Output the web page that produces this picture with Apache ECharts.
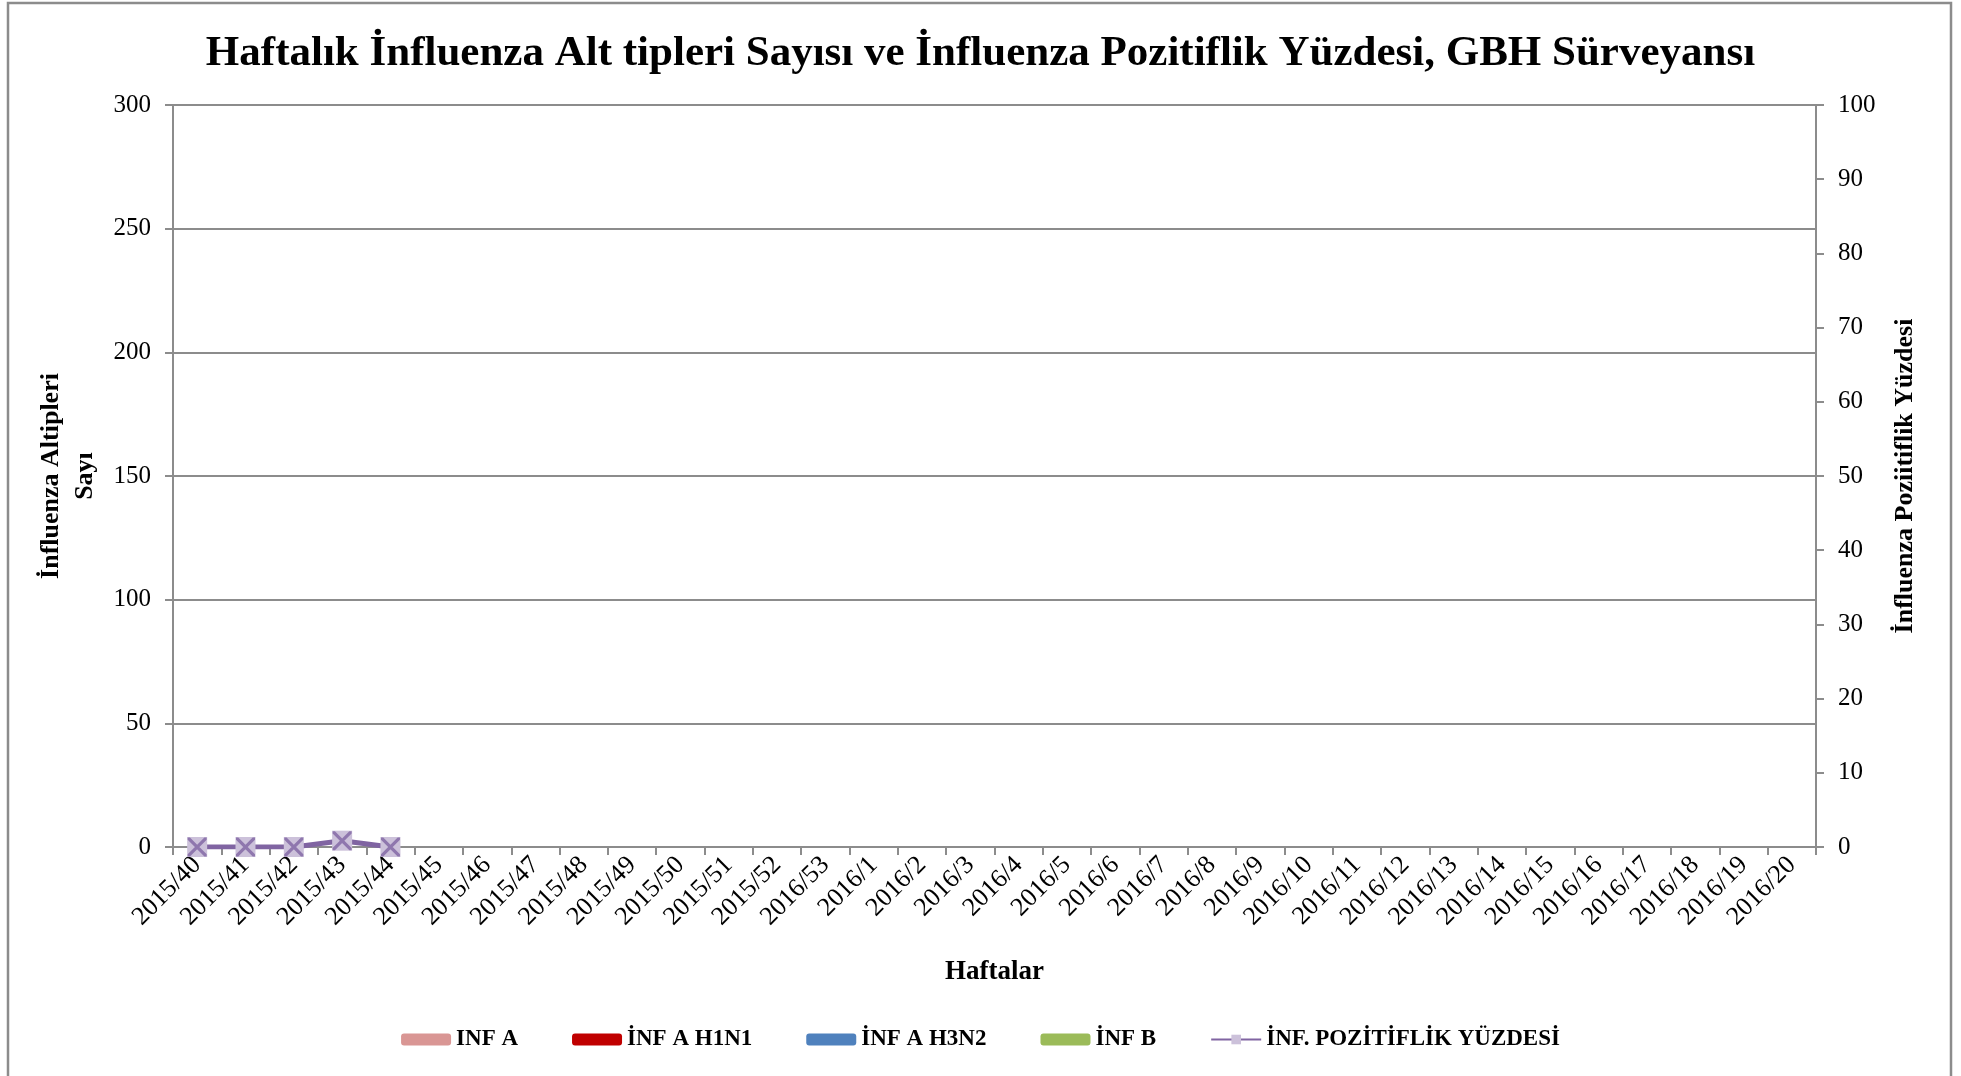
<!DOCTYPE html>
<html><head><meta charset="utf-8">
<script src="https://cdn.jsdelivr.net/npm/echarts@6/dist/echarts.min.js"></script>
<style>html,body{margin:0;padding:0;background:#fff}#c{width:1961px;height:1076px}</style>
</head><body><div id="c"></div>
<script>
const weeks = ['2015/40','2015/41','2015/42','2015/43','2015/44','2015/45','2015/46','2015/47','2015/48','2015/49','2015/50','2015/51','2015/52','2016/53','2016/1','2016/2','2016/3','2016/4','2016/5','2016/6','2016/7','2016/8','2016/9','2016/10','2016/11','2016/12','2016/13','2016/14','2016/15','2016/16','2016/17','2016/18','2016/19','2016/20'];
const infA = [0,0,0,0,0];
const infAH1N1 = [0,0,0,0,0];
const infAH3N2 = [0,0,0,0,0];
const infB = [0,0,0,0,0];
const positivity = [0,0,0,0.85,0];
const leftTicks = [0,50,100,150,200,250,300];
const rightTicks = [0,10,20,30,40,50,60,70,80,90,100];

const FONT = '"Liberation Serif","Times New Roman",serif';
const GRAY = '#8c8c8c';
const chart = echarts.init(document.getElementById('c'), null, {renderer:'canvas'});
const crossPath = 'path://M0,0 L1.2,0 L10,8.8 L10,10 L8.8,10 L0,1.2 Z M10,0 L10,1.2 L1.2,10 L0,10 L0,8.8 L8.8,0 Z';
chart.setOption({
  backgroundColor:'#fff',
  animation:false,
  title:{text:'Haftalık İnfluenza Alt tipleri Sayısı ve İnfluenza Pozitiflik Yüzdesi, GBH Sürveyansı',
    left:'center', top:27, textStyle:{fontFamily:FONT,fontWeight:'bold',fontSize:43,color:'#000'}},
  graphic:[{type:'rect',shape:{x:8,y:3,width:1943,height:1090},style:{fill:'none',stroke:GRAY,lineWidth:2.5},silent:true}],
  legend:{bottom:20, left:'center', itemWidth:50, itemHeight:12, itemGap:54,
    textStyle:{fontFamily:FONT,fontWeight:'bold',fontSize:23,color:'#000'},
    data:['INF A','İNF A H1N1','İNF A H3N2','İNF B','İNF. POZİTİFLİK YÜZDESİ']},
  grid:{left:173,right:145,top:105,bottom:229},
  xAxis:{type:'category',data:weeks,boundaryGap:true,
    name:'Haftalar',nameLocation:'middle',nameGap:112,
    nameTextStyle:{fontFamily:FONT,fontWeight:'bold',fontSize:27,color:'#000'},
    axisLine:{lineStyle:{color:GRAY,width:2}},
    axisTick:{show:true,length:8,lineStyle:{color:GRAY,width:2},interval:0},
    axisLabel:{interval:0,rotate:45,margin:14,fontFamily:FONT,fontSize:26,color:'#000'}},
  yAxis:[
    {type:'value',min:0,max:300,interval:50,position:'left',
     name:'İnfluenza Altipleri\nSayı',nameLocation:'middle',nameGap:59,
     nameTextStyle:{fontFamily:FONT,fontWeight:'bold',fontSize:26,color:'#000',lineHeight:34,align:'center'},
     axisLine:{show:true,lineStyle:{color:GRAY,width:2}},
     axisTick:{show:true,length:8,lineStyle:{color:GRAY,width:2}},
     splitLine:{show:true,lineStyle:{color:GRAY,width:2}},
     axisLabel:{margin:22,fontFamily:FONT,fontSize:25,color:'#000'}},
    {type:'value',min:0,max:100,interval:10,position:'right',
     name:'İnfluenza Poziitiflik Yüzdesi',nameLocation:'middle',nameGap:76,nameRotate:90,
     nameTextStyle:{fontFamily:FONT,fontWeight:'bold',fontSize:26,color:'#000'},
     axisLine:{show:true,lineStyle:{color:GRAY,width:2}},
     axisTick:{show:true,length:8,lineStyle:{color:GRAY,width:2}},
     splitLine:{show:false},
     axisLabel:{margin:22,fontFamily:FONT,fontSize:25,color:'#000'}}
  ],
  series:[
    {name:'INF A',type:'bar',stack:'s',data:infA,itemStyle:{color:'#D99694'}},
    {name:'İNF A H1N1',type:'bar',stack:'s',data:infAH1N1,itemStyle:{color:'#C00000'}},
    {name:'İNF A H3N2',type:'bar',stack:'s',data:infAH3N2,itemStyle:{color:'#4F81BD'}},
    {name:'İNF B',type:'bar',stack:'s',data:infB,itemStyle:{color:'#9BBB59'}},
    {name:'İNF. POZİTİFLİK YÜZDESİ',type:'line',yAxisIndex:1,data:positivity,z:5,
     lineStyle:{color:'#8064A2',width:5},symbol:'rect',symbolSize:20,showAllSymbol:true,
     itemStyle:{color:'#CCC1DA',borderWidth:0}},
    {name:'crossMarks',type:'scatter',yAxisIndex:1,data:positivity,z:6,symbol:crossPath,symbolSize:19,
     itemStyle:{color:'#8064A2'},silent:true}
  ]
});
</script></body></html>
